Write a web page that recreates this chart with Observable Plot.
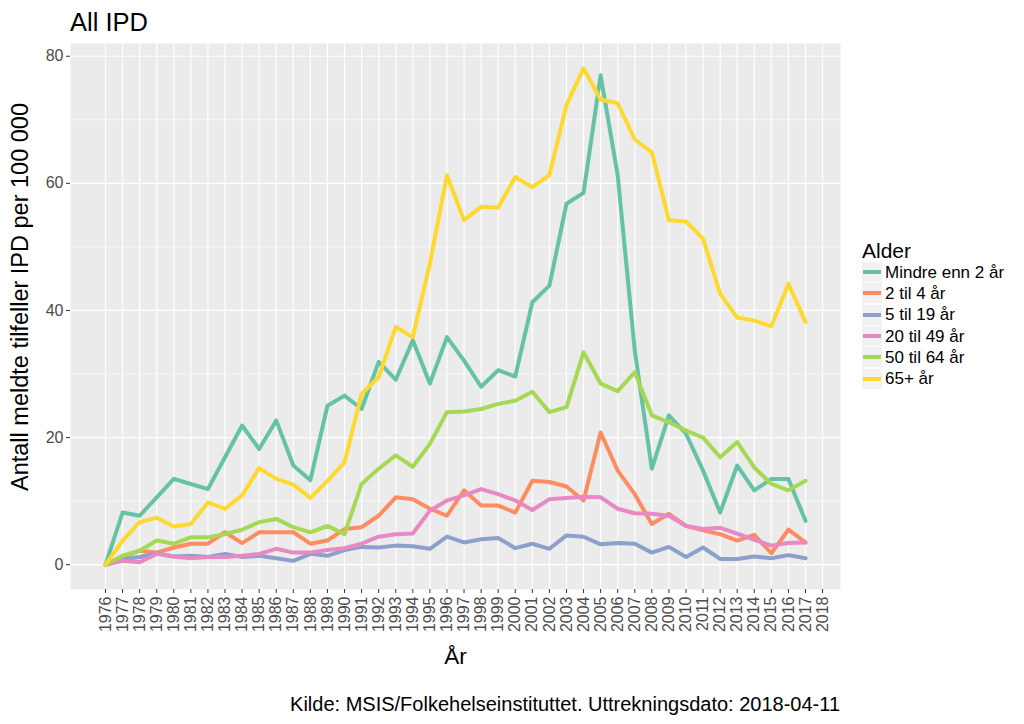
<!DOCTYPE html>
<html><head><meta charset="utf-8">
<script src="https://cdn.jsdelivr.net/npm/d3@7"></script>
<script src="https://cdn.jsdelivr.net/npm/@observablehq/plot@0.6"></script>
<style>
body{margin:0;background:#fff;font-family:"Liberation Sans",Arial,sans-serif;}
#wrap{position:relative;width:1024px;height:724px;overflow:hidden;}
#title{position:absolute;left:70px;top:10px;font-size:25.5px;line-height:25px;color:#000;}
#chart{position:absolute;left:0;top:43px;}
#ytitle{position:absolute;left:20px;top:297px;width:0;height:0;}
#ytitle span{position:absolute;left:0;top:0;transform:translate(-50%,-50%) rotate(-90deg);white-space:nowrap;font-size:23.5px;line-height:24px;color:#000;}
#legend{position:absolute;left:862px;top:240px;}
#legend .lt{font-size:21px;line-height:21px;margin-bottom:1px;}
#legend .row{display:flex;align-items:center;height:21.3px;font-size:17px;}
#legend .key{width:20px;height:20px;background:#f2f2f2;display:flex;align-items:center;justify-content:center;margin-right:3px;border-bottom:1px solid #fff;}
#legend .kl{width:18px;height:4px;display:block;}
#caption{position:absolute;right:184px;top:694px;font-size:20px;line-height:20px;white-space:nowrap;}
</style></head><body>
<div id="wrap">
<div id="title">All IPD</div>
<div id="chart"></div>
<div id="ytitle"><span>Antall meldte tilfeller IPD per 100 000</span></div>
<div id="legend"></div>
<div id="caption">Kilde: MSIS/Folkehelseinstituttet. Uttrekningsdato: 2018-04-11</div>
</div>
<script>
const years = [1976,1977,1978,1979,1980,1981,1982,1983,1984,1985,1986,1987,1988,1989,1990,1991,1992,1993,1994,1995,1996,1997,1998,1999,2000,2001,2002,2003,2004,2005,2006,2007,2008,2009,2010,2011,2012,2013,2014,2015,2016,2017];
const tickYears = [1976,1977,1978,1979,1980,1981,1982,1983,1984,1985,1986,1987,1988,1989,1990,1991,1992,1993,1994,1995,1996,1997,1998,1999,2000,2001,2002,2003,2004,2005,2006,2007,2008,2009,2010,2011,2012,2013,2014,2015,2016,2017,2018];
const yTicks = [0,20,40,60,80];
const yMinor = [10,30,50,70];
const groups = ["Mindre enn 2 år","2 til 4 år","5 til 19 år","20 til 49 år","50 til 64 år","65+ år"];
const colors = ["#66c2a5","#fc8d62","#8da0cb","#e78ac3","#a6d854","#ffd92f"];

const under2 = [0,8.2,7.7,10.6,13.5,12.7,11.9,16.9,21.9,18.2,22.7,15.6,13.3,25.0,26.6,24.5,31.9,29.1,35.3,28.5,35.8,32.1,28.0,30.6,29.6,41.3,43.9,56.8,58.5,77.0,61.3,33.7,15.1,23.5,20.6,14.8,8.2,15.6,11.7,13.5,13.5,6.9];
const age2to4 = [0,1.2,2.2,1.9,2.7,3.3,3.3,5.1,3.4,5.1,5.1,5.1,3.3,3.8,5.6,5.9,7.7,10.6,10.3,8.8,7.7,11.7,9.3,9.3,8.2,13.2,13.0,12.3,10.1,20.8,14.8,11.1,6.4,8.0,6.1,5.4,4.8,3.8,4.7,1.8,5.5,3.5];
const age5to19 = [0,0.8,1.2,1.8,1.3,1.4,1.2,1.7,1.2,1.4,1.0,0.6,1.7,1.4,2.3,2.8,2.7,3.0,2.9,2.5,4.4,3.5,4.0,4.2,2.6,3.3,2.5,4.6,4.4,3.2,3.4,3.3,1.9,2.8,1.2,2.7,0.9,0.9,1.3,1.0,1.5,1.0];
const age20to49 = [0,0.6,0.4,1.7,1.3,1.0,1.2,1.2,1.4,1.7,2.5,1.9,1.9,2.3,2.6,3.3,4.4,4.8,4.9,8.5,10.1,10.9,11.9,11.1,10.1,8.6,10.3,10.5,10.7,10.6,8.8,8.1,8.0,7.7,6.1,5.6,5.8,4.9,3.9,3.0,3.4,3.5];
const age50to64 = [0,1.4,2.2,3.8,3.3,4.3,4.3,4.8,5.5,6.7,7.2,5.9,5.1,6.1,4.8,12.7,15.1,17.2,15.4,19.0,24.0,24.1,24.5,25.3,25.8,27.2,24.0,24.8,33.4,28.5,27.3,30.3,23.5,22.4,21.1,20.0,16.9,19.3,15.3,12.7,11.7,13.2];
const age65plus = [0,3.8,6.7,7.4,6.0,6.4,9.8,8.8,10.9,15.2,13.5,12.6,10.5,13.2,16.1,26.9,29.5,37.4,35.8,47.4,61.3,54.2,56.3,56.2,61.0,59.4,61.3,72.3,78.1,73.2,72.6,66.9,64.9,54.2,54.0,51.3,42.6,38.9,38.4,37.5,44.2,38.2];

const series = [under2, age2to4, age5to19, age20to49, age50to64, age65plus];
const data = groups.flatMap((g, i) => years.map((yr, j) => ({year: yr, value: series[i][j], group: g})));

// ggplot-style 5% expansion
const xExt = d3.extent(years), xr = xExt[1] - xExt[0];
const yExt = d3.extent(data, d => d.value), yr = yExt[1] - yExt[0];

const chart = Plot.plot({
  width: 1024, height: 636,
  marginLeft: 70, marginRight: 184, marginTop: 0, marginBottom: 90,
  style: {fontFamily: '"Liberation Sans", Arial, sans-serif', background: "transparent", overflow: "visible"},
  x: {domain: [xExt[0] - 0.05 * xr, xExt[1] + 0.05 * xr]},
  y: {domain: [yExt[0] - 0.05 * yr, yExt[1] + 0.05 * yr]},
  color: {domain: groups, range: colors},
  marks: [
    Plot.frame({fill: "#ebebeb", stroke: null}),
    Plot.gridY(yMinor, {stroke: "#fff", strokeOpacity: 1, strokeWidth: 0.6}),
    Plot.gridY(yTicks, {stroke: "#fff", strokeOpacity: 1, strokeWidth: 1.2}),
    Plot.gridX(tickYears, {stroke: "#fff", strokeOpacity: 1, strokeWidth: 1.2}),
    Plot.line(data, {x: "year", y: "value", z: "group", stroke: "group", strokeWidth: 4, strokeLinejoin: "round"}),
    Plot.axisY(yTicks, {tickSize: 4, tickPadding: 3, fontSize: 16, fill: "#4d4d4d", stroke: "#333", label: null}),
    Plot.axisX(tickYears, {tickRotate: -90, tickSize: 4, tickPadding: 3, fontSize: 16, fill: "#4d4d4d", stroke: "#333", label: null, tickFormat: d => String(d)}),
    Plot.text(["År"], {frameAnchor: "bottom", dy: 74, fontSize: 22.5, fill: "#000"})
  ]
});
document.getElementById("chart").appendChild(chart);

const legend = document.getElementById("legend");
const lt = document.createElement("div"); lt.className = "lt"; lt.textContent = "Alder"; legend.appendChild(lt);
groups.forEach((g, i) => {
  const row = document.createElement("div"); row.className = "row";
  const key = document.createElement("span"); key.className = "key";
  const kl = document.createElement("span"); kl.className = "kl"; kl.style.background = colors[i];
  key.appendChild(kl); row.appendChild(key);
  const t = document.createElement("span"); t.textContent = g; row.appendChild(t);
  legend.appendChild(row);
});
</script>
</body></html>
